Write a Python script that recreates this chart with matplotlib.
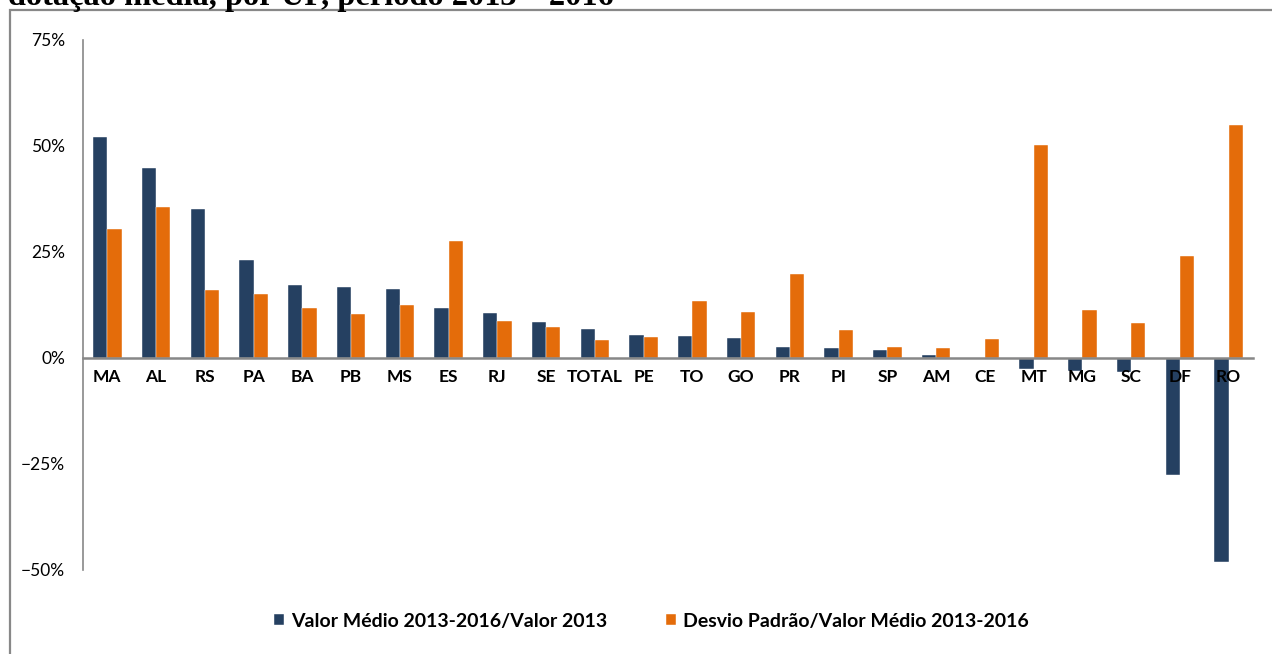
import matplotlib
matplotlib.use('Agg')
import numpy as np
from matplotlib import pyplot as plt
from matplotlib.patches import Rectangle
from matplotlib.ticker import PercentFormatter
from matplotlib.font_manager import FontProperties

ufs = ['MA', 'AL', 'RS', 'PA', 'BA', 'PB', 'MS', 'ES', 'RJ', 'SE', 'TOTAL', 'PE',
       'TO', 'GO', 'PR', 'PI', 'SP', 'AM', 'CE', 'MT', 'MG', 'SC', 'DF', 'RO']
valor_medio = [52.2, 44.8, 35.1, 23.1, 17.2, 16.7, 16.3, 11.9, 10.5, 8.5, 6.9, 5.4,
               5.2, 4.6, 2.6, 2.4, 2.0, 0.6, -0.1, -2.6, -3.0, -3.4, -27.5, -48.0]
desvio_padrao = [30.5, 35.5, 16.0, 15.2, 11.9, 10.4, 12.5, 27.6, 8.7, 7.4, 4.3, 5.0,
                 13.5, 10.8, 19.9, 6.7, 2.5, 2.4, 4.5, 50.2, 11.3, 8.3, 24.1, 55.0]
serie_labels = ['Valor Médio 2013-2016/Valor 2013', 'Desvio Padrão/Valor Médio 2013-2016']
cores = ['#254061', '#E46C0A']
titulo = 'dotação média, por UF, período 2013 – 2016'

plt.rcParams['font.family'] = ['Lato', 'DejaVu Sans']

fig = plt.figure(figsize=(12.72, 6.54), dpi=100)
ax = fig.add_axes([83 / 1272, 1 - 570 / 654, (1253 - 83) / 1272, 530 / 654])

x = np.arange(len(ufs))
w = 0.29
ax.bar(x - w / 2, np.array(valor_medio) / 100, w, color=cores[0], edgecolor='white',
       linewidth=0.3, label=serie_labels[0])
ax.bar(x + w / 2, np.array(desvio_padrao) / 100, w, color=cores[1], edgecolor='white',
       linewidth=0.3, label=serie_labels[1])

# spine position first: it resets the ticks
for s in ['top', 'right']:
    ax.spines[s].set_visible(False)
ax.spines['bottom'].set_position(('data', 0))
ax.spines['bottom'].set_color('#878787')
ax.spines['bottom'].set_linewidth(1.8)
ax.spines['left'].set_color('#878787')
ax.spines['left'].set_linewidth(1.2)

ax.set_xlim(-0.5, len(ufs) - 0.5)
ax.set_ylim(-0.5, 0.75)
ax.set_yticks([-0.5, -0.25, 0, 0.25, 0.5, 0.75])
ax.yaxis.set_major_formatter(PercentFormatter(1.0, decimals=0))
ax.tick_params(axis='x', length=0, pad=8)
ax.tick_params(axis='y', length=0, pad=13, labelsize=12.5)
ax.set_xticks(x)
ax.set_xticklabels(ufs, fontproperties=FontProperties(family='Lato', weight='bold', size=12.5))

fig.legend(loc='center', bbox_to_anchor=(0.512, 1 - 621 / 654), ncol=2, frameon=False,
           prop=FontProperties(family='Lato', weight='bold', size=14),
           handlelength=0.55, handleheight=0.55, handletextpad=0.35, columnspacing=3.0)

# moldura do gráfico e título cortado no topo
fig.patches.append(Rectangle((10 / 1272, -0.1), 1.2, 1 - 10 / 654 + 0.1,
                             transform=fig.transFigure, fill=False,
                             edgecolor='#888888', linewidth=1.6))
fig.text(8 / 1272, 1 - 4.5 / 654, titulo, family='Liberation Serif', fontweight='bold',
         fontsize=23.3, va='baseline', ha='left')

fig.savefig('out.png', dpi=100)
